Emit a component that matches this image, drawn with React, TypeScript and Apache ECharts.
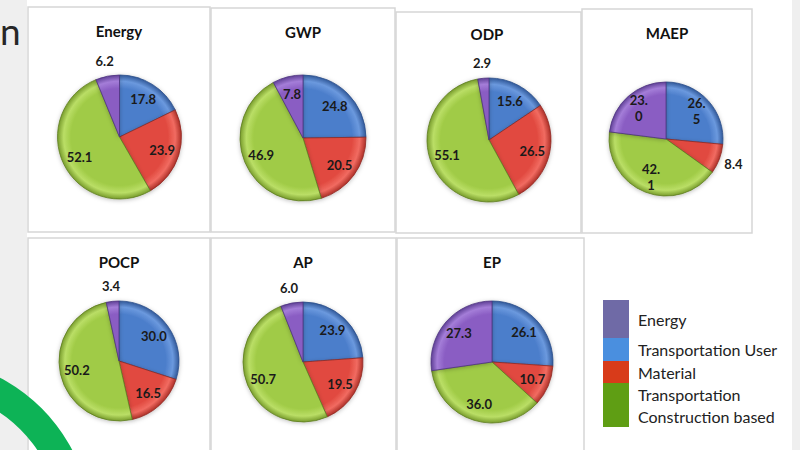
import React, { useEffect, useRef } from "react";
import * as echarts from "echarts";

// Impact categories, one pie each
const panelTitles = ["Energy", "GWP", "ODP", "MAEP", "POCP", "AP", "EP"];

// Slice order, clockwise from 12 o'clock
const sliceNames = [
  "Transportation User",
  "Material",
  "Transportation Construction based",
  "Energy",
];

// Shares (%) per category, in slice order
const energyShares = [17.8, 23.9, 52.1, 6.2];
const gwpShares = [24.8, 20.5, 46.9, 7.8];
const odpShares = [15.6, 26.5, 55.1, 2.9];
const maepShares = [26.5, 8.4, 42.1, 23.0];
const pocpShares = [30.0, 16.5, 50.2, 3.4];
const apShares = [23.9, 19.5, 50.7, 6.0];
const epShares = [26.1, 10.7, 36.0, 27.3];

const allShares = [
  energyShares,
  gwpShares,
  odpShares,
  maepShares,
  pocpShares,
  apShares,
  epShares,
];

// Legend entries, top to bottom
const legendLabels = [
  "Energy",
  "Transportation User",
  "Material",
  "Transportation\nConstruction based",
];

// ---- layout & style ----
const panelBoxes = [
  { x: 28, y: 7, w: 182, h: 225 },
  { x: 211, y: 8, w: 184, h: 224 },
  { x: 396, y: 12, w: 185, h: 221 },
  { x: 582, y: 9, w: 170, h: 224 },
  { x: 28, y: 238, w: 182, h: 222 },
  { x: 211, y: 238, w: 185, h: 222 },
  { x: 397, y: 238, w: 187, h: 222 },
];
const pieCenters = [
  [119.5, 137],
  [303, 138],
  [489, 140],
  [666, 139],
  [119, 361],
  [303, 362],
  [492, 362],
];
const pieRadii = [62, 63, 62, 57, 60, 60, 61];
const titlePos = [
  [119, 31],
  [303, 32],
  [487, 34],
  [667, 33],
  [119, 262],
  [303, 262],
  [492, 262],
];
// which slices carry their value outside the rim
const outsideLabels = [[3], [], [3], [1], [3], [3], []];
// narrow label box so values wrap inside the small pie
const wrapPanels = [3];

const sliceBase = ["#4c7ecb", "#e14a40", "#a0cb46", "#8a5dc3"];
const sliceLight = ["#6b99de", "#f16b61", "#bade66", "#a47dd8"];
const sliceRim = ["#31599a", "#ad2f27", "#789c2c", "#5f4096"];
const sliceEdge = ["#2c4f8a", "#8f2a24", "#5f7d22", "#4f3580"];

const legendColors = ["#6f6aa6", "#4a8fdf", "#d83b1a", "#5f9e14"];
const legendBlocks = [
  { y: 300, h: 38 },
  { y: 338, h: 23 },
  { y: 361, h: 22 },
  { y: 383, h: 44 },
];

const FONT = "Lato, 'Open Sans', sans-serif";

function sliceFill(cx: number, cy: number, r: number, k: number) {
  return {
    type: "radial",
    x: cx,
    y: cy,
    r,
    global: true,
    colorStops: [
      { offset: 0, color: sliceBase[k] },
      { offset: 0.78, color: sliceBase[k] },
      { offset: 0.9, color: sliceLight[k] },
      { offset: 1, color: sliceRim[k] },
    ],
  };
}

function buildSeries(i: number) {
  const [cx, cy] = pieCenters[i];
  const r = pieRadii[i];
  const values = allShares[i];
  const outside = outsideLabels[i];
  const wrap = wrapPanels.includes(i);
  const common = {
    type: "pie",
    center: [cx, cy],
    startAngle: 90,
    clockwise: true,
    silent: true,
    avoidLabelOverlap: false,
    emphasis: { disabled: true },
    labelLine: { show: false },
  };
  const labelStyle = {
    position: "inside",
    color: "#1a1a1a",
    fontFamily: FONT,
    fontWeight: "bold",
    fontSize: 13,
    textBorderWidth: 0,
    formatter: (p: any) => Number(p.value).toFixed(1),
  };
  const visible = {
    ...common,
    radius: r,
    label: { show: false },
    itemStyle: {
      shadowBlur: 4,
      shadowOffsetY: 1,
      shadowColor: "rgba(0,0,0,0.25)",
    },
    data: values.map((v, k) => ({
      name: sliceNames[k],
      value: v,
      itemStyle: {
        color: sliceFill(cx, cy, r, k),
        borderColor: sliceEdge[k],
        borderWidth: 0.8,
      },
    })),
  };
  const innerLabels = {
    ...common,
    radius: [r * 0.34, r],
    itemStyle: { color: "rgba(0,0,0,0)", borderWidth: 0 },
    label: {
      ...labelStyle,
      ...(wrap ? { width: 21, overflow: "breakAll", lineHeight: 16 } : {}),
    },
    data: values.map((v, k) => ({
      name: sliceNames[k],
      value: v,
      label: { show: !outside.includes(k) },
    })),
  };
  const outerLabels = {
    ...common,
    radius: [r + 2, r + 22],
    itemStyle: { color: "rgba(0,0,0,0)", borderWidth: 0 },
    label: labelStyle,
    data: values.map((v, k) => ({
      name: sliceNames[k],
      value: v,
      label: { show: outside.includes(k) },
    })),
  };
  return [visible, innerLabels, outerLabels];
}

function buildGraphics() {
  const els: any[] = [];
  // side strips of the slide
  els.push({
    type: "rect",
    shape: { x: 0, y: 0, width: 27, height: 450 },
    style: { fill: "#efefef" },
    z: 0,
  });
  els.push({
    type: "rect",
    shape: { x: 792, y: 0, width: 8, height: 450 },
    style: { fill: "#efefef" },
    z: 0,
  });
  // panel frames
  panelBoxes.forEach((b) => {
    els.push({
      type: "rect",
      shape: { x: b.x, y: b.y, width: b.w, height: b.h },
      style: { fill: "#ffffff", stroke: "#d6d6d6", lineWidth: 1.5 },
      z: 1,
    });
  });
  // panel titles
  panelTitles.forEach((t, i) => {
    els.push({
      type: "text",
      x: titlePos[i][0],
      y: titlePos[i][1],
      z: 3,
      style: {
        text: t,
        fill: "#111111",
        font: `bold 15px ${FONT}`,
        align: "center",
        verticalAlign: "middle",
      },
    });
  });
  // legend
  legendLabels.forEach((lab, k) => {
    const b = legendBlocks[k];
    els.push({
      type: "rect",
      shape: { x: 603, y: b.y, width: 26, height: b.h },
      style: { fill: legendColors[k] },
      z: 3,
    });
    els.push({
      type: "text",
      x: 638,
      y: b.y + b.h / 2,
      z: 3,
      style: {
        text: lab,
        fill: "#222222",
        font: `16px ${FONT}`,
        lineHeight: 22,
        align: "left",
        verticalAlign: "middle",
      },
    });
  });
  // slide heading fragment and decorative arc
  els.push({
    type: "text",
    x: 0,
    y: 30,
    z: 3,
    style: {
      text: "n",
      fill: "#262626",
      font: `37px ${FONT}`,
      align: "left",
      verticalAlign: "middle",
    },
  });
  els.push({
    type: "ring",
    shape: { cx: -80, cy: 530, r: 172, r0: 142 },
    style: { fill: "#0db356" },
    z: 2,
  });
  return els;
}

export default function App() {
  const ref = useRef<HTMLDivElement>(null);
  useEffect(() => {
    if (!ref.current) return;
    const chart = echarts.init(ref.current, undefined, { renderer: "svg" });
    const series: any[] = [];
    panelTitles.forEach((_, i) => series.push(...buildSeries(i)));
    chart.setOption({
      animation: false,
      backgroundColor: "#ffffff",
      graphic: { elements: buildGraphics() },
      series,
    });
    return () => chart.dispose();
  }, []);
  return (
    <div
      ref={ref}
      style={{ position: "fixed", left: 0, top: 0, width: 800, height: 450 }}
    />
  );
}
